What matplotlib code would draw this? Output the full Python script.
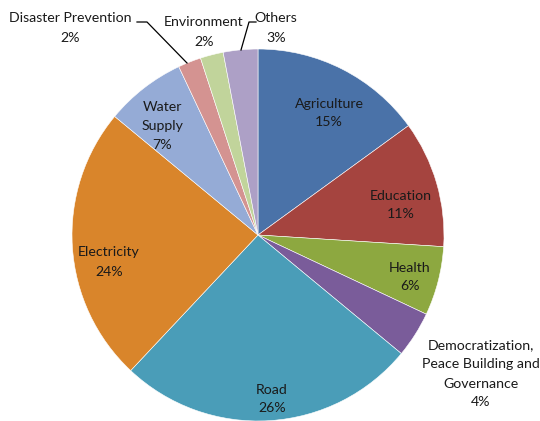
import matplotlib
matplotlib.use("Agg")
import matplotlib.pyplot as plt

# Share of projects by sector
sectors = ["Agriculture", "Education", "Health",
           "Democratization,\nPeace Building and\nGovernance",
           "Road", "Electricity", "Water\nSupply",
           "Disaster Prevention", "Environment", "Others"]
shares = [15, 11, 6, 4, 26, 24, 7, 2, 2, 3]
colors = ["#4a72a8", "#a5443f", "#8da840", "#7a5c9a", "#4a9db8",
          "#d9852b", "#95abd6", "#d49391", "#c1d49b", "#ada0c6"]

# label centres in pixel coords (x, y from top)
label_pos = [(329, 113), (401, 205), (410, 277), (481, 374), (272, 399),
             (109, 262), (162, 126), (70, 28), (204, 32), (276, 28)]

W, H = 540, 421
plt.rcParams["font.family"] = ["Lato", "DejaVu Sans"]
fig = plt.figure(figsize=(W / 100, H / 100), dpi=100)
ax = fig.add_axes([0, 0, 1, 1])

cx, cy, r = 258, H - 235, 186
ax.pie(shares, colors=colors, startangle=90, counterclock=False,
       center=(cx, cy), radius=r, frame=True,
       wedgeprops=dict(edgecolor="white", linewidth=0.4))
ax.set_xlim(0, W)
ax.set_ylim(0, H)
ax.axis("off")

for name, val, (x, y) in zip(sectors, shares, label_pos):
    ax.text(x, H - y, f"{name}\n{val}%", ha="center", va="center",
            fontsize=10.2, color="#1a1a1a", linespacing=1.7)

# leader lines
ax.plot([137, 147, 187], [H - 22, H - 22, H - 63], color="black", lw=0.9)
ax.plot([256, 249, 241], [H - 22, H - 22, H - 50], color="black", lw=0.9)

fig.savefig("out.png", dpi=100)
